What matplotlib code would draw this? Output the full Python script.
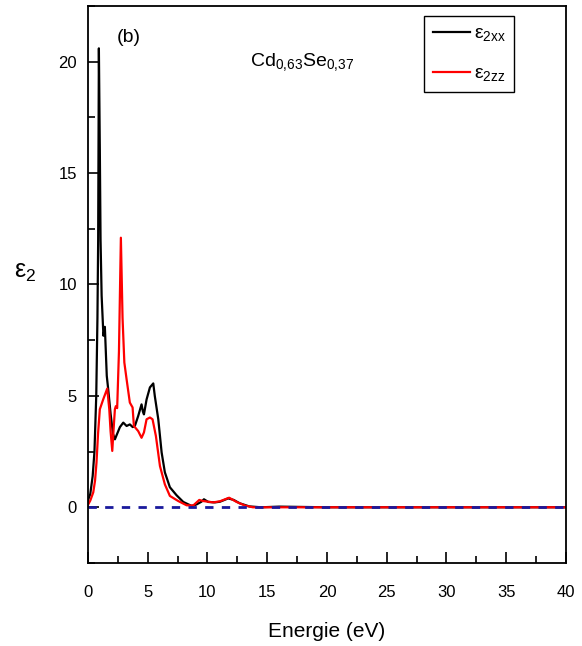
import matplotlib
matplotlib.use("Agg")
import matplotlib.pyplot as plt
from matplotlib.ticker import MultipleLocator

plt.rcParams['font.family'] = ['Liberation Sans', 'DejaVu Sans']
plt.rcParams['mathtext.fontset'] = 'custom'
plt.rcParams['mathtext.rm'] = 'Liberation Sans'
plt.rcParams['mathtext.it'] = 'Liberation Sans'

# ---- data ----
e_xx = [0.0, 0.2, 0.4, 0.55, 0.7, 0.8, 0.86, 0.92, 1.0, 1.06, 1.15, 1.3, 1.42, 1.5, 1.58,
        1.7, 1.9, 2.1, 2.26, 2.45, 2.68, 2.96, 3.24, 3.51, 3.75, 3.93, 4.21, 4.49, 4.6,
        4.69, 4.91, 5.19, 5.47, 5.6, 5.89, 6.17, 6.44, 6.86, 7.42, 7.98, 8.68, 9.1, 9.5,
        9.71, 10.07, 10.63, 11.05, 11.74, 12.2, 12.7, 13.5, 14.5, 16.0, 20.0, 30.0, 40.0]
eps_xx = [0.3, 0.6, 1.4, 2.5, 5.0, 8.5, 12.0, 20.6, 16.0, 12.0, 9.5, 7.7, 8.1, 7.0, 5.9,
          5.3, 4.2, 3.3, 3.05, 3.3, 3.6, 3.8, 3.65, 3.72, 3.6, 3.65, 4.1, 4.62, 4.3,
          4.17, 4.84, 5.38, 5.56, 4.99, 3.95, 2.46, 1.57, 0.9, 0.54, 0.24, 0.06, 0.13, 0.25,
          0.36, 0.24, 0.22, 0.25, 0.4, 0.33, 0.18, 0.04, 0.0, 0.03, 0.0, 0.0, 0.0]

e_zz = [0.0, 0.2, 0.45, 0.6, 0.72, 0.85, 1.0, 1.28, 1.62, 1.79, 1.9, 2.04, 2.15, 2.26,
        2.34, 2.45, 2.6, 2.76, 2.9, 3.05, 3.24, 3.51, 3.74, 3.85, 4.21, 4.49, 4.69, 4.91,
        5.19, 5.41, 5.69, 6.03, 6.44, 6.86, 7.56, 8.26, 8.81, 9.32, 9.65, 10.49, 11.05,
        11.82, 12.44, 13.14, 13.8, 16.0, 20.0, 30.0, 40.0]
eps_zz = [0.1, 0.3, 0.67, 1.2, 2.0, 3.3, 4.4, 4.84, 5.33, 4.4, 3.4, 2.53, 3.5, 4.4,
          4.54, 4.45, 7.0, 12.1, 8.5, 6.5, 5.74, 4.7, 4.48, 3.65, 3.42, 3.12, 3.36, 3.95,
          4.03, 3.95, 3.2, 1.85, 1.03, 0.51, 0.28, 0.09, 0.08, 0.33, 0.28, 0.22, 0.27,
          0.43, 0.24, 0.08, 0.0, 0.0, 0.0, 0.0, 0.0]

fig = plt.figure(figsize=(5.82, 6.46), dpi=100)
ax = fig.add_axes([0.151, 0.1285, 0.8215, 0.8622])

ax.plot(e_xx, eps_xx, color='black', lw=1.6, label=r'$\epsilon_{2xx}$')
ax.plot(e_zz, eps_zz, color='red', lw=1.6, label=r'$\epsilon_{2zz}$')
ax.axhline(0, color='#1a1a9c', lw=2, ls=(0, (3, 3)))

ax.set_xlim(0, 40)
ax.set_ylim(-2.5, 22.5)
ax.xaxis.set_major_locator(MultipleLocator(5))
ax.xaxis.set_minor_locator(MultipleLocator(2.5))
ax.yaxis.set_major_locator(MultipleLocator(5))
ax.yaxis.set_minor_locator(MultipleLocator(2.5))
ax.tick_params(which='both', direction='in', labelsize=12, width=1.2)
ax.tick_params(which='major', length=8)
ax.tick_params(which='minor', length=5)
ax.tick_params(axis='x', pad=16)
ax.tick_params(axis='y', pad=8)
for s in ax.spines.values():
    s.set_linewidth(1.3)

ax.set_xlabel('Energie (eV)', fontsize=15, labelpad=16)
ax.set_ylabel(r'$\epsilon_2$', fontsize=18, rotation=0, labelpad=24)

ax.text(2.4, 20.9, '(b)', fontsize=14)
ax.text(13.6, 19.8, r'Cd$_{0{,}63}$Se$_{0{,}37}$', fontsize=14)

leg = ax.legend(loc='upper left', bbox_to_anchor=(0.703, 0.982), fontsize=14,
                handlelength=1.9, handletextpad=0.2, fancybox=False, edgecolor='black',
                framealpha=1, labelspacing=1.1, borderpad=0.45, borderaxespad=0)
leg.get_frame().set_linewidth(1.0)

fig.savefig('out.png', dpi=100)
